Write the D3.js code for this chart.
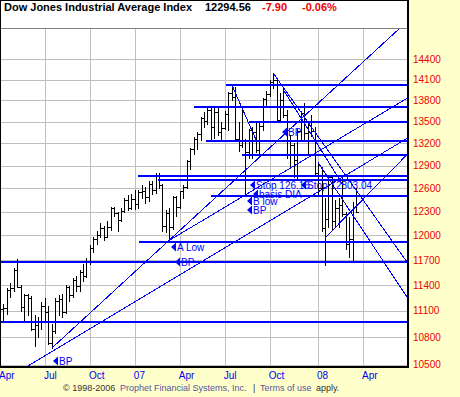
<!DOCTYPE html>
<html>
<head>
<meta charset="utf-8">
<script src="https://cdn.jsdelivr.net/npm/d3@7"></script>
<style>
    body { margin: 0; background: #ffffcc; }
    svg { display: block; font-family: Arial, "Liberation Sans", sans-serif; }
</style>
</head>
<body>
<svg id="chart" width="460" height="397"></svg>
<script>
/*
 * DJIA weekly bars, Apr 2006 - Mar 2008 (week 0 = week of 2006-04-03)
 */
const opens  = [ 11109,11120,11137,11347,11367,11577,11380,11144,11278,11247,10891,10939,10989,11150,11090,10739,10868,11219,11240,11089,11381,11284,11464,11392,11560,11508,
                 11679,11850,11960,12002,12090,11986,12108,12342,12280,12194,12307,12445,12343,12463,12398,12556,12565,12487,12653,12580,12768,12647,12114,12276,12110,12481,
                 12354,12560,12612,12961,13120,13264,13327,13556,13507,13668,13424,13639,13360,13409,13611,13907,13851,13265,13182,13239,13079,13379,13358,13113,13442,13820,
                 13896,14066,14093,13522,13806,13595,13042,13176,12980,13372,13625,13339,13450,13366,12800,12606,12099,12207,12743,12182,12348,12381,12266,11893,11951,12361 ];
const highs  = [ 11250,11175,11370,11420,11600,11710,11400,11300,11300,11270,11050,11030,11200,11250,11150,10950,11250,11280,11300,11400,11390,11480,11510,11580,11650,11720,
                 11880,11980,12060,12160,12120,12180,12360,12360,12300,12340,12480,12510,12530,12580,12580,12640,12620,12700,12700,12800,12795,12660,12320,12340,12500,12500,
                 12570,12640,12970,13140,13290,13350,13570,13630,13700,13700,13700,13700,13500,13650,13920,14030,14000,13500,13700,13260,13400,13420,13490,13480,13840,13940,
                 14100,14198,14100,13900,14000,13660,13320,13200,13400,13650,13770,13480,13600,13420,12940,12880,12480,12770,12760,12450,12470,12760,12300,12230,12420,12600 ];
const lows   = [ 11050,10990,11060,11260,11330,11380,11100,10970,11050,10880,10700,10800,10890,11000,10730,10683,10850,11050,11030,11070,11210,11260,11330,11330,11450,11490,
                 11650,11800,11900,11980,11950,11980,12070,12240,12050,12180,12290,12320,12330,12330,12340,12480,12410,12440,12520,12540,12600,12050,12040,11940,12080,12250,
                 12350,12480,12600,12860,13050,13130,13250,13430,13470,13260,13270,13320,13260,13400,13380,13800,13230,13100,13150,12517,13000,13000,13080,13050,13380,13730,
                 13870,13980,13500,13490,13560,13000,12900,12750,12720,13250,13250,13050,13300,12780,12500,12050,11635,12100,12070,12100,12100,12250,11830,11730,11700,12290 ];
const closes = [ 11120,11137,11347,11367,11577,11380,11144,11278,11247,10891,10939,10989,11150,11090,10739,10868,11219,11240,11089,11381,11284,11464,11392,11560,11508,11679,
                 11850,11960,12002,12090,11986,12108,12342,12280,12194,12307,12445,12343,12463,12398,12556,12565,12487,12653,12580,12768,12647,12114,12276,12110,12481,12354,
                 12560,12612,12961,13120,13264,13327,13556,13507,13668,13424,13639,13360,13409,13611,13907,13851,13265,13182,13239,13079,13379,13358,13113,13442,13820,13896,
                 14066,14093,13522,13806,13595,13042,13176,12980,13372,13625,13339,13450,13366,12800,12606,12099,12207,12743,12182,12348,12381,12266,11893,11951,12361,12294 ];

const tickWeeks  = [ 0, 13, 26, 39, 52, 65, 78, 92, 105 ];
const tickLabels = [ "Apr", "Jul", "Oct", "07", "Apr", "Jul", "Oct", "08", "Apr" ];
const priceTicks = [ 10500, 10800, 11100, 11400, 11700, 12000, 12300, 12600, 12900, 13200, 13500, 13800, 14100, 14400 ];

// horizontal support / resistance levels and the week they start from
const levelValues = [ 14032, 13716, 13505, 13242, 13052, 12781, 12719, 12514, 11932, 11687, 10985 ];
const levelStarts = [ 65.4, 56.1, 72, 59.6, 70, 39.9, 45.7, 61, 40.2, 0, 0 ];

// trend lines: [week, value] -> [week, value]
const trendFrom = [ [ 15, 10680 ], [ 7.7, 10476 ], [ 49, 11940 ], [ 94, 11969 ], [ 79, 14198 ], [ 82, 13950 ], [ 92, 12941 ], [ 67, 14030 ] ];
const trendTo   = [ [ 115.7, 14874 ], [ 117.7, 13267 ], [ 117.7, 13829 ], [ 117.7, 13046 ], [ 117.7, 11676 ], [ 99.2, 12643 ], [ 117.7, 11260 ], [ 74.2, 13233 ] ];

const markerWeeks  = [ 15.2, 49.5, 50.6, 72.3, 87.1, 73.3, 71.4, 71.4, 81.5 ];
const markerValues = [ 10538, 11862, 11680, 12640, 12650, 12530, 12437, 12316, 13350 ];
const markerTexts  = [ "BP", "A Low", "BP", "Stop 126.16", "Stop 12803.04", "basis DIA", "B low", "BP", "BP" ];

const title = "Dow Jones Industrial Average Index";
const lastPrice = "12294.56", change = "-7.90", changePct = "-0.06%";

let svg = d3.select( "#chart" );
let plotRight = 408, plotTop = 28, plotBottom = 366;

let x = d3.scaleLinear().domain( [ 0, 105 ] ).range( [ 0, 363 ] );
let y = d3.scaleLog().domain( [ 10500, 14400 ] ).range( [ 364.5, 59.3 ] );
let blue = "#0000ff";

// header box
svg.append( "rect" ).attr( "x", 0.5 ).attr( "y", 0.5 ).attr( "width", plotRight - 0.5 ).attr( "height", plotTop )
    .attr( "fill", "#ffffff" ).attr( "stroke", "#000" );
let head = svg.append( "g" ).attr( "font-size", "11px" ).attr( "font-weight", "bold" );
head.append( "text" ).attr( "x", 4 ).attr( "y", 10.5 ).attr( "fill", "#000" ).text( title );
head.append( "text" ).attr( "x", 205 ).attr( "y", 10.5 ).attr( "fill", "#000" ).text( lastPrice );
head.append( "text" ).attr( "x", 262 ).attr( "y", 10.5 ).attr( "fill", "#ee0000" ).text( change );
head.append( "text" ).attr( "x", 302 ).attr( "y", 10.5 ).attr( "fill", "#ee0000" ).text( changePct );

// plot background
svg.append( "rect" ).attr( "x", 0 ).attr( "y", plotTop + 0.5 ).attr( "width", plotRight ).attr( "height", plotBottom - plotTop )
    .attr( "fill", "#ffffff" );

svg.append( "clipPath" ).attr( "id", "plotclip" ).append( "rect" )
    .attr( "x", 1 ).attr( "y", plotTop + 1 ).attr( "width", plotRight - 2 ).attr( "height", plotBottom - plotTop - 1 );

let plot = svg.append( "g" ).attr( "clip-path", "url(#plotclip)" );

// grid
plot.selectAll( ".hgrid" ).data( priceTicks ).enter().append( "line" ).attr( "class", "hgrid" )
    .attr( "x1", 0 ).attr( "x2", plotRight )
    .attr( "y1", function ( d ) { return Math.round( y( d ) ) + 0.5; } )
    .attr( "y2", function ( d ) { return Math.round( y( d ) ) + 0.5; } )
    .attr( "stroke", "#c0c0c0" ).attr( "shape-rendering", "crispEdges" );
plot.selectAll( ".vgrid" ).data( tickWeeks ).enter().append( "line" ).attr( "class", "vgrid" )
    .attr( "x1", function ( d ) { return Math.round( x( d ) ) + 0.5; } )
    .attr( "x2", function ( d ) { return Math.round( x( d ) ) + 0.5; } )
    .attr( "y1", plotTop ).attr( "y2", plotBottom )
    .attr( "stroke", "#c0c0c0" ).attr( "shape-rendering", "crispEdges" );

// markers (drawn under the bars)
let mk = plot.selectAll( ".marker" ).data( markerTexts ).enter().append( "g" ).attr( "class", "marker" )
    .attr( "transform", function ( d, i ) {
        return "translate(" + Math.round( x( markerWeeks[ i ] ) ) + "," + Math.round( y( markerValues[ i ] ) ) + ")";
    } );
mk.append( "path" ).attr( "d", "M0,0L5,-4.5L5,4.5Z" ).attr( "fill", blue );
mk.append( "text" ).attr( "x", 6 ).attr( "dy", "0.36em" ).attr( "font-size", "10px" ).attr( "fill", blue )
    .text( function ( d ) { return d; } );

// OHLC bars
let bars = plot.selectAll( ".bar" ).data( closes ).enter().append( "g" ).attr( "class", "bar" )
    .attr( "stroke", "#000" ).attr( "shape-rendering", "crispEdges" );
bars.append( "line" )
    .attr( "x1", function ( d, i ) { return Math.round( x( i ) ) + 0.5; } )
    .attr( "x2", function ( d, i ) { return Math.round( x( i ) ) + 0.5; } )
    .attr( "y1", function ( d, i ) { return Math.round( y( highs[ i ] ) ); } )
    .attr( "y2", function ( d, i ) { return Math.round( y( lows[ i ] ) ) + 1; } );
bars.append( "line" )
    .attr( "x1", function ( d, i ) { return Math.round( x( i ) ) - 2; } )
    .attr( "x2", function ( d, i ) { return Math.round( x( i ) ); } )
    .attr( "y1", function ( d, i ) { return Math.round( y( opens[ i ] ) ) + 0.5; } )
    .attr( "y2", function ( d, i ) { return Math.round( y( opens[ i ] ) ) + 0.5; } );
bars.append( "line" )
    .attr( "x1", function ( d, i ) { return Math.round( x( i ) ) + 1; } )
    .attr( "x2", function ( d, i ) { return Math.round( x( i ) ) + 3; } )
    .attr( "y1", function ( d ) { return Math.round( y( d ) ) + 0.5; } )
    .attr( "y2", function ( d ) { return Math.round( y( d ) ) + 0.5; } );

// horizontal levels
plot.selectAll( ".level" ).data( levelValues ).enter().append( "line" ).attr( "class", "level" )
    .attr( "x1", function ( d, i ) { return x( levelStarts[ i ] ); } ).attr( "x2", plotRight )
    .attr( "y1", function ( d ) { return Math.round( y( d ) ) + 0.5; } )
    .attr( "y2", function ( d ) { return Math.round( y( d ) ) + 0.5; } )
    .attr( "stroke", blue ).attr( "stroke-width", 2 ).attr( "shape-rendering", "crispEdges" );

// trend lines
plot.selectAll( ".trend" ).data( trendFrom ).enter().append( "line" ).attr( "class", "trend" )
    .attr( "x1", function ( d ) { return x( d[ 0 ] ); } )
    .attr( "y1", function ( d ) { return y( d[ 1 ] ); } )
    .attr( "x2", function ( d, i ) { return x( trendTo[ i ][ 0 ] ); } )
    .attr( "y2", function ( d, i ) { return y( trendTo[ i ][ 1 ] ); } )
    .attr( "stroke", blue ).attr( "stroke-width", 1 ).attr( "shape-rendering", "crispEdges" );

// frame
svg.append( "line" ).attr( "x1", 0.5 ).attr( "x2", 0.5 ).attr( "y1", plotTop ).attr( "y2", plotBottom + 1 ).attr( "stroke", "#000" );
svg.append( "line" ).attr( "x1", plotRight ).attr( "x2", plotRight ).attr( "y1", 0 ).attr( "y2", plotBottom + 2 )
    .attr( "stroke", "#000" ).attr( "stroke-width", 2 );
svg.append( "line" ).attr( "x1", 0 ).attr( "x2", plotRight + 1 ).attr( "y1", plotBottom + 1 ).attr( "y2", plotBottom + 1 )
    .attr( "stroke", "#000" ).attr( "stroke-width", 2 );

// right price axis
svg.append( "g" ).selectAll( "text" ).data( priceTicks ).enter().append( "text" )
    .attr( "x", 413 ).attr( "y", function ( d ) { return y( d ); } ).attr( "dy", "0.36em" )
    .attr( "font-size", "10px" ).attr( "fill", "#ee0000" )
    .text( function ( d ) { return d; } );

// bottom date axis
svg.append( "g" ).selectAll( "text" ).data( tickLabels ).enter().append( "text" )
    .attr( "x", function ( d, i ) { return x( tickWeeks[ i ] ) - 1; } ).attr( "y", 378.5 )
    .attr( "font-size", "10px" ).attr( "fill", "#0000ee" )
    .text( function ( d ) { return d; } );

// footer
let foot = svg.append( "g" ).attr( "font-size", "9px" );
foot.append( "text" ).attr( "x", 63 ).attr( "y", 390.5 ).attr( "fill", "#333" ).text( "\u00a9 1998-2006" );
foot.append( "text" ).attr( "x", 120 ).attr( "y", 390.5 ).attr( "fill", "#55559a" ).text( "Prophet Financial Systems, Inc." );
foot.append( "text" ).attr( "x", 253 ).attr( "y", 390.5 ).attr( "fill", "#333" ).text( "|" );
foot.append( "text" ).attr( "x", 260 ).attr( "y", 390.5 ).attr( "fill", "#55559a" ).text( "Terms of use" );
foot.append( "text" ).attr( "x", 316 ).attr( "y", 390.5 ).attr( "fill", "#333" ).text( "apply." );
</script>
</body>
</html>
